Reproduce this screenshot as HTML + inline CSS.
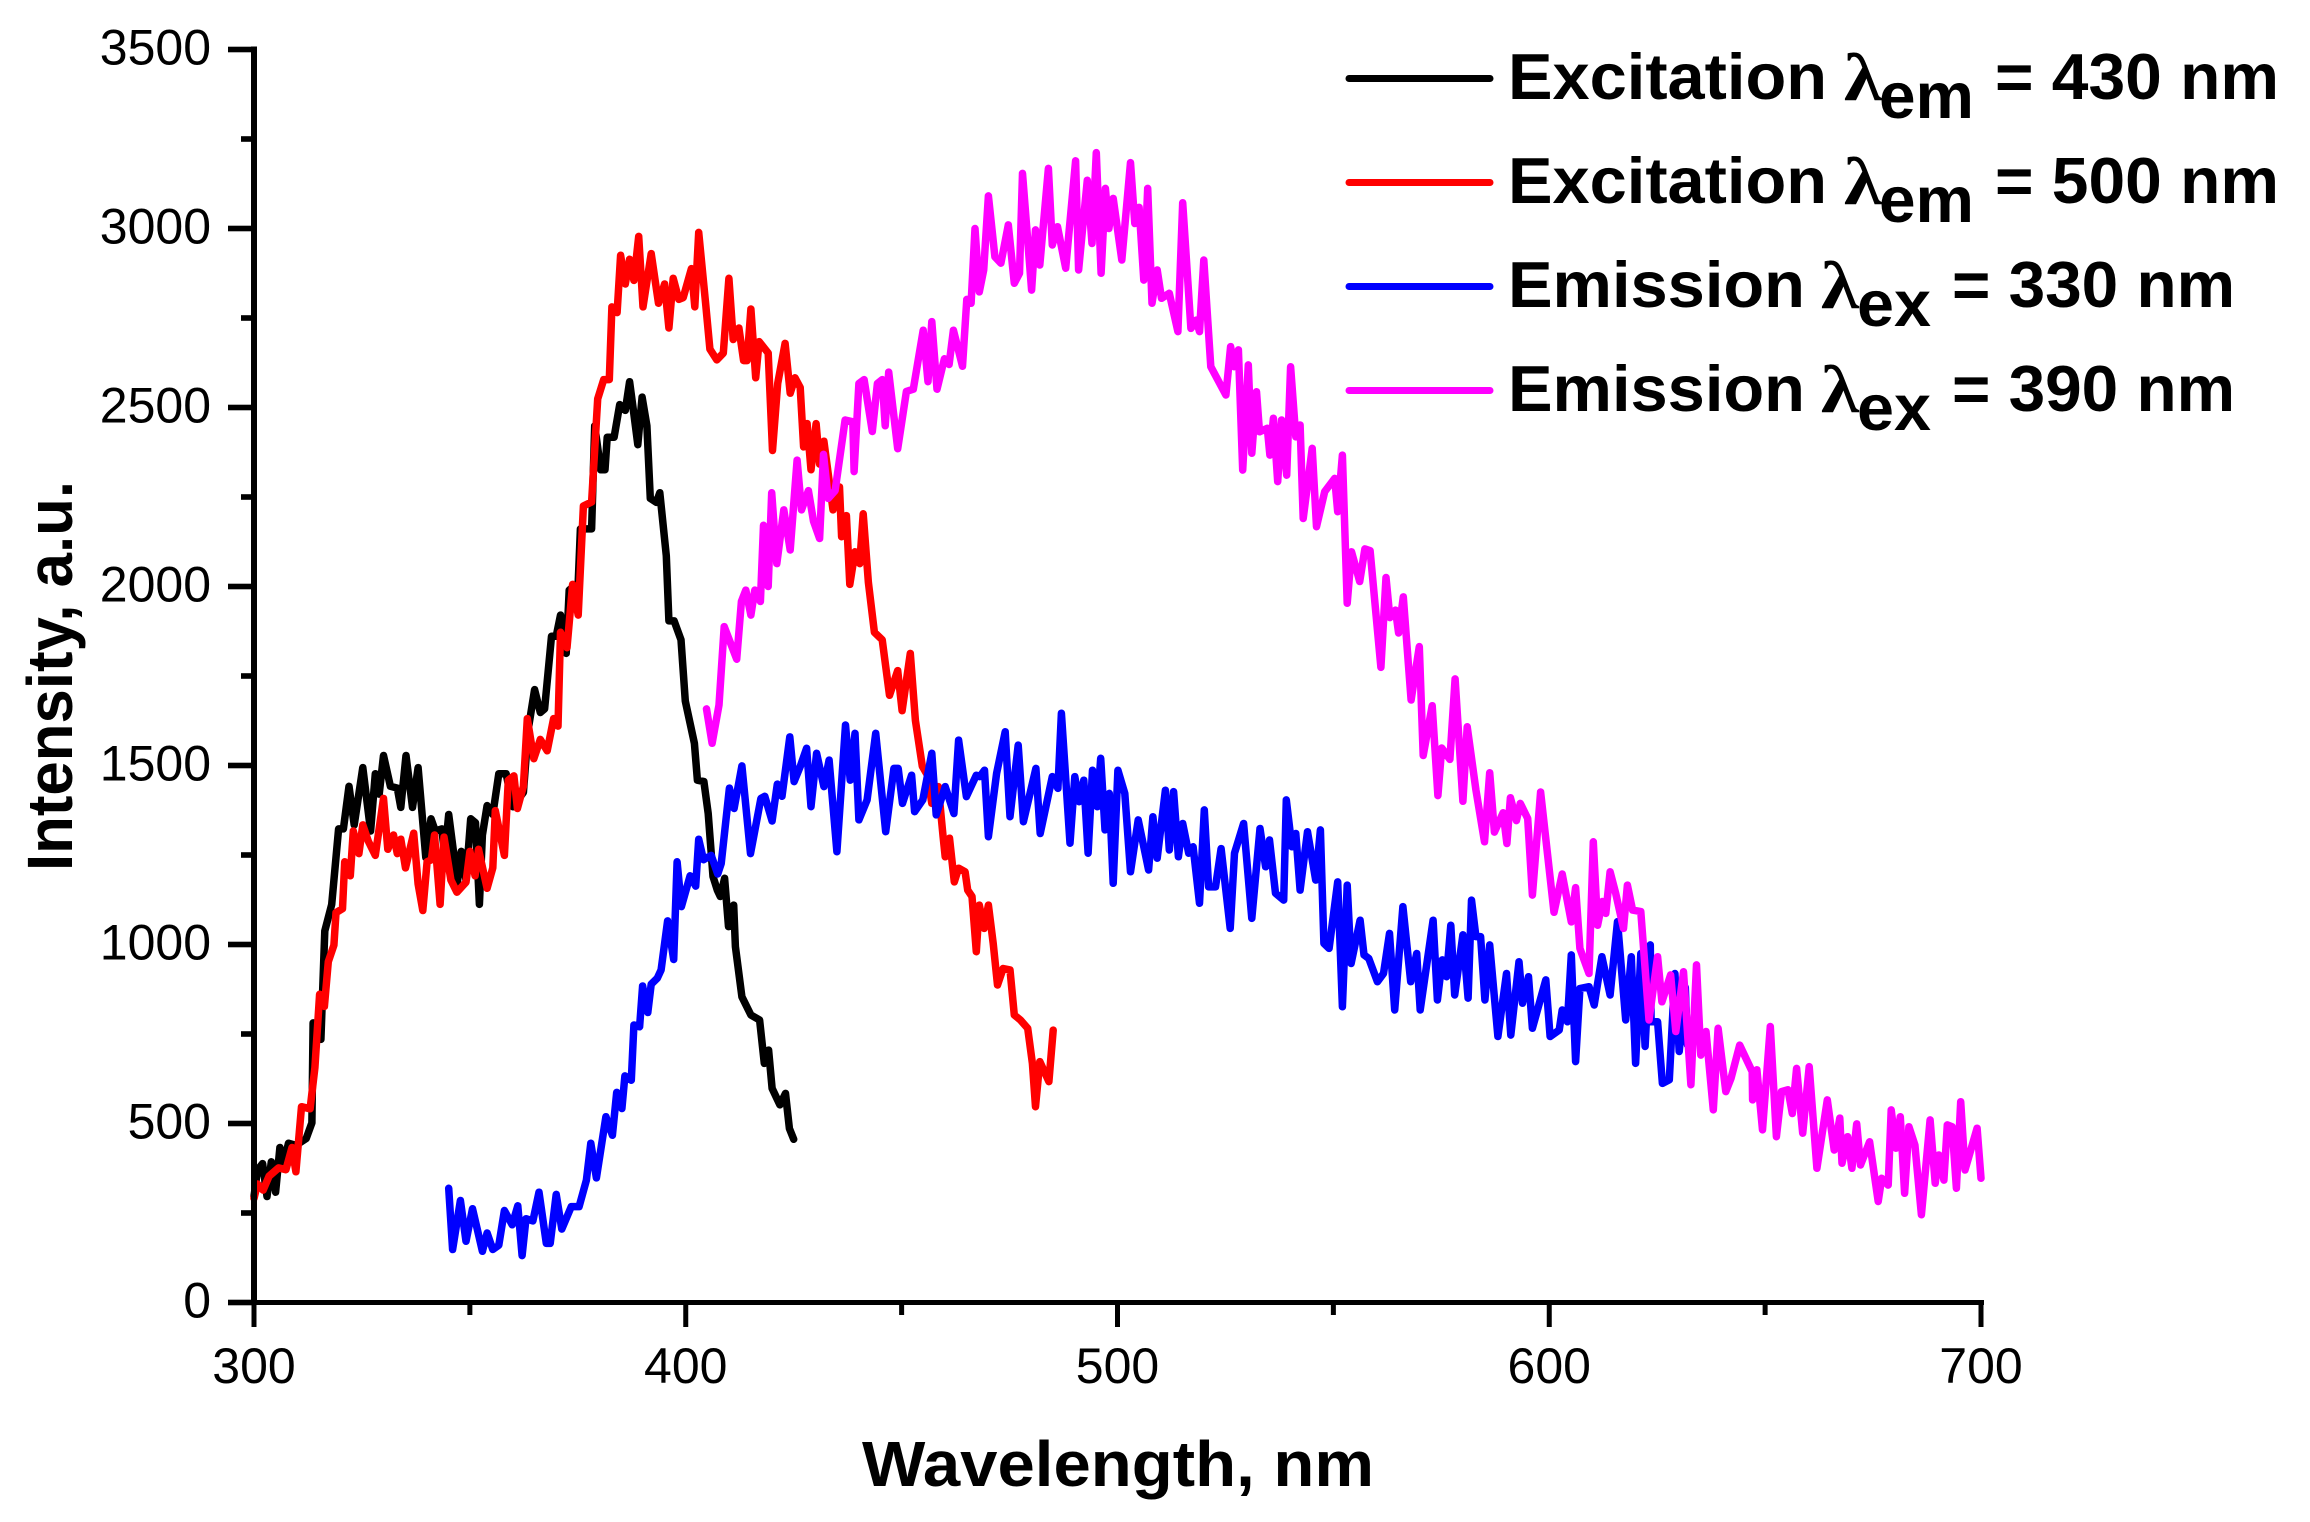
<!DOCTYPE html>
<html lang="en">
<head>
<meta charset="utf-8">
<title>Excitation and emission spectra</title>
<style>
html,body{margin:0;padding:0;background:#fff;}
svg{display:block;}
text{fill:#000;font-family:"Liberation Sans",Arial,sans-serif;}
.tick{font-size:50px;}
.title{font-size:64px;font-weight:700;}
.leg{font-size:65px;font-weight:700;}
.lam{font-size:68px;font-weight:700;font-family:"Liberation Serif",serif;}
</style>
</head>
<body>
<svg id="chart" xmlns="http://www.w3.org/2000/svg" width="2310" height="1522" viewBox="0 0 2310 1522">
  <rect x="0" y="0" width="2310" height="1522" fill="#fff"/>
  <g id="series-layer"></g>
  <g id="axes-layer">
    <rect x="251" y="46.5" width="6" height="1258.5" fill="#000"/>
    <rect x="251" y="1300" width="1733" height="5" fill="#000"/>
  </g>
  <text class="title" x="862" y="1486" textLength="512" lengthAdjust="spacingAndGlyphs">Wavelength, nm</text>
  <text class="title" transform="translate(72,871) rotate(-90)" x="0" y="0" textLength="390" lengthAdjust="spacingAndGlyphs">Intensity, a.u.</text>
  <g>
    <g>
      <line x1="1349" x2="1490" y1="78.5" y2="78.5" stroke="#000" stroke-width="7" stroke-linecap="round"/>
      <text class="leg" x="1508" y="99" textLength="319" lengthAdjust="spacingAndGlyphs">Excitation</text>
      <text class="lam" x="1844" y="100" textLength="38" lengthAdjust="spacingAndGlyphs">λ</text>
      <text class="leg" x="1879" y="118" textLength="95" lengthAdjust="spacingAndGlyphs">em</text>
      <text class="leg" x="1995" y="99" textLength="284" lengthAdjust="spacingAndGlyphs">= 430 nm</text>
    </g>
    <g>
      <line x1="1349" x2="1490" y1="182.5" y2="182.5" stroke="#f00" stroke-width="7" stroke-linecap="round"/>
      <text class="leg" x="1508" y="203" textLength="319" lengthAdjust="spacingAndGlyphs">Excitation</text>
      <text class="lam" x="1844" y="204" textLength="38" lengthAdjust="spacingAndGlyphs">λ</text>
      <text class="leg" x="1879" y="222" textLength="95" lengthAdjust="spacingAndGlyphs">em</text>
      <text class="leg" x="1995" y="203" textLength="284" lengthAdjust="spacingAndGlyphs">= 500 nm</text>
    </g>
    <g>
      <line x1="1349" x2="1490" y1="286.5" y2="286.5" stroke="#00f" stroke-width="7" stroke-linecap="round"/>
      <text class="leg" x="1508" y="307" textLength="297" lengthAdjust="spacingAndGlyphs">Emission</text>
      <text class="lam" x="1821" y="308" textLength="38" lengthAdjust="spacingAndGlyphs">λ</text>
      <text class="leg" x="1857" y="326" textLength="74" lengthAdjust="spacingAndGlyphs">ex</text>
      <text class="leg" x="1952" y="307" textLength="283" lengthAdjust="spacingAndGlyphs">= 330 nm</text>
    </g>
    <g>
      <line x1="1349" x2="1490" y1="390.5" y2="390.5" stroke="#f0f" stroke-width="7" stroke-linecap="round"/>
      <text class="leg" x="1508" y="411" textLength="297" lengthAdjust="spacingAndGlyphs">Emission</text>
      <text class="lam" x="1821" y="412" textLength="38" lengthAdjust="spacingAndGlyphs">λ</text>
      <text class="leg" x="1857" y="430" textLength="74" lengthAdjust="spacingAndGlyphs">ex</text>
      <text class="leg" x="1952" y="411" textLength="283" lengthAdjust="spacingAndGlyphs">= 390 nm</text>
    </g>
  </g>
</svg>
<script>
const xTickValues = [300, 400, 500, 600, 700];
const xMinorTickValues = [350, 450, 550, 650];
const yTickValues = [0, 500, 1000, 1500, 2000, 2500, 3000, 3500];
const yMinorTickValues = [250, 750, 1250, 1750, 2250, 2750, 3250];

const excitation430Wavelengths = [300,300.8,302,303,304,305,306,306.8,308,309.7,312.1,313.4,313.7,315.5,316.4,318,319.6,320.7,322,323.2,325.2,327,328.1,329,330,331.6,333.2,334,335.2,336.7,338,339.8,341,342,343.5,344.2,345.1,347.1,348,349.1,350.2,351.3,352.2,352.9,354,355.3,356.7,358.4,360,362.4,363.5,365,366.3,367.3,368.9,370,371,372.3,373,375.1,375.6,378.2,378.9,380.3,381.3,381.8,383.4,384.7,386,387,388,388.9,389.9,391,391.8,393.2,394,395.5,396.1,397.3,398.9,399.9,402,402.7,404.2,405.2,406.3,407.3,408,409,409.9,411.1,411.5,413,415.1,417.1,418.2,419.2,420,421.8,423.1,424,425];
const excitation430Intensities = [296,370,388,296,393,308,433,388,445,439,458,502,781,735,1038,1112,1323,1323,1442,1334,1494,1317,1477,1420,1528,1442,1437,1383,1528,1383,1494,1243,1351,1317,1323,1249,1363,1174,1260,1180,1351,1340,1112,1306,1388,1363,1477,1477,1385,1425,1600,1712,1648,1658,1861,1861,1920,1813,1990,2011,2161,2161,2449,2326,2326,2417,2417,2508,2492,2572,2481,2396,2529,2449,2246,2235,2262,2086,1904,1904,1851,1680,1562,1459,1455,1366,1190,1152,1134,1185,1050,1110,994,854,803,789,668,705,598,552,584,486,456];

const excitation500Wavelengths = [300,300.8,302.1,303.5,305.7,307.4,308.8,309.7,311,313,314.1,315.2,316.3,317.2,318.5,319,320.5,321,322.3,323,324.3,325.2,326.5,328.1,330,331,332.3,333.2,334,335.1,337,338,339.1,340.1,341.1,341.8,343.1,344,345.6,347,349.1,350,351.2,352,354,355.3,355.9,358,358.9,360.2,361,362.4,363.3,364.8,366.3,367.9,369.4,370.4,371,372.5,373.8,375.1,376.3,378.2,379.6,381,382.3,382.9,384.1,384.9,386,387,388,389.1,390.1,392,393.7,395.1,396.1,397.1,398.4,399.4,401.3,402.1,403,404.6,405.6,407.2,408.7,410,411,412.3,413.4,414.2,415.1,416.2,417,419.1,420.1,421.3,423,424.2,425.3,426.5,427.3,428.1,429,430.2,431,432,434.1,435.6,436.1,437.2,438,439.2,440.3,441.1,442.3,443.7,445.5,447.2,449.1,450.1,452,453.2,454.8,456,457,458.5,459.6,460.1,461.1,462.2,463.2,464.7,465.3,466.3,467.3,468,469.1,470.1,471.2,472.2,473.5,475.1,476.1,477.5,479.2,480.3,481,482,484.1,485.1];
const excitation500Intensities = [291,331,314,353,376,371,433,365,547,541,656,861,827,952,998,1089,1100,1231,1192,1317,1254,1334,1288,1249,1408,1266,1306,1254,1294,1214,1311,1169,1095,1231,1237,1306,1112,1300,1180,1146,1174,1260,1192,1266,1157,1214,1374,1249,1459,1471,1380,1442,1631,1519,1573,1541,1631,1610,1872,1829,2006,1920,2225,2236,2524,2578,2578,2781,2765,2925,2845,2914,2855,2978,2781,2930,2791,2845,2722,2861,2802,2807,2888,2781,2989,2791,2663,2633,2652,2861,2690,2722,2631,2631,2775,2583,2684,2652,2380,2567,2679,2540,2583,2556,2390,2455,2326,2455,2342,2406,2214,2278,2139,2198,2006,2097,2064,2203,2011,1872,1851,1696,1765,1653,1813,1626,1498,1473,1394,1441,1301,1245,1297,1175,1213,1203,1152,1134,980,1110,1045,1110,1003,887,933,929,803,789,766,668,547,673,617,761];

const emission330Wavelengths = [345.1,346,347.8,349.1,350.6,352.9,354,355.3,356.7,358,359.8,361.1,362.1,363,364.6,366,367.7,368.6,370,371.3,373.5,375.3,377,378,379.3,381.5,383,384,385.2,385.9,387.4,388,389.3,390,391.2,392,393.4,394.3,395.8,397.2,398,399,401,402.3,403,404.1,405.9,407.4,408.2,410.1,411.2,413,415,417.4,418.3,420,421.2,422.3,424.1,425.1,426.5,428,429,430.3,432,433.2,435,437,438.1,439.2,440.1,442,444,446.3,448.2,449.2,450.2,452.3,453,454.9,457,458,460.1,462.1,463.2,465,467.3,468.1,469.2,470.1,472,474,475.1,477,478.2,481.1,482.1,484.9,486.2,487,489,490.1,491.1,492.2,493.2,494.2,495.3,496.1,497.1,498.1,499,500.1,501.7,503,504.8,507.2,508.2,509.2,511.1,512,513,514.1,515.1,516.5,517.5,519,520.1,521.1,522.7,524,526.1,527.1,529.2,531.1,533,534.3,535.2,536.6,538.5,539.1,540.4,541.3,542.3,544,545.9,547,547.8,549,551,552.1,553.2,554.1,556.2,557.1,558.2,560.2,561.6,563,564.2,566.1,567.9,569.3,570.1,573.1,574.1,575.2,576.2,577.2,578.1,580,581.2,582,583,584.1,585.1,586.2,588.1,590.1,591.1,593,593.8,595.2,596.1,599.2,600.2,602.3,603,604.2,605.1,606.1,607.1,609.2,610.4,612.2,614.1,615.8,617.7,619,620,621.2,622.2,623.4,623.6,625.1,626.2,627.8,629.1,630.1,631.5,632];
const emission330Intensities = [319,148,285,171,262,143,194,148,160,257,217,270,131,234,228,308,165,165,302,205,268,268,342,445,348,519,467,587,542,633,621,775,770,884,810,889,906,929,1066,958,1231,1106,1192,1163,1294,1237,1249,1197,1226,1437,1380,1499,1254,1408,1414,1345,1448,1414,1580,1455,1497,1548,1385,1534,1441,1515,1259,1613,1459,1590,1348,1404,1590,1315,1492,1492,1394,1473,1371,1404,1534,1362,1441,1366,1571,1413,1473,1469,1487,1301,1478,1594,1357,1557,1343,1492,1310,1469,1436,1646,1283,1469,1399,1459,1255,1487,1385,1520,1320,1422,1171,1487,1422,1203,1348,1208,1357,1241,1431,1264,1427,1245,1338,1255,1273,1115,1376,1161,1161,1268,1045,1255,1338,1073,1324,1217,1292,1143,1124,1404,1273,1310,1152,1315,1180,1320,1003,989,1175,826,1166,947,1068,971,961,896,919,1031,817,1106,896,975,817,1068,845,957,910,1054,859,1027,850,1124,1022,1022,845,999,743,919,747,952,836,910,766,901,743,761,817,784,971,673,877,882,831,966,859,1064,789,966,668,975,715,999,784,784,612,622,919,701,880,720];

const emission390Wavelengths = [404.8,406.1,407.7,408.9,411.8,412.9,413.9,415.1,416,417.3,418,419.1,419.9,421.1,422.7,424.2,425.8,426.8,428.4,429.6,431,431.9,433,434.6,436.9,438.7,439,440.1,441.3,443.2,444.4,445.5,446.2,447,449.1,451.1,452.7,455,456.1,457,458.2,459.9,461,462,464.1,465.1,466.1,467,468,469,470.1,471.6,473,474.7,476.1,477.3,478,480.1,481,482,484,484.9,486.1,488,490.3,491,493,494.1,495.1,496.2,497.2,498,499,501,503,504,505,506.1,507,508,509.2,510.2,512,514,515.1,517,518.2,519,520,521.6,525.1,526.2,527,528,529,530.3,531.1,532.2,532.9,534.7,535.3,536.1,537.1,538,539.2,540.1,541.3,542.3,543,545.1,546.1,548,550.3,551,552.1,553.2,554.2,556.1,557.3,558.5,561,562.2,563.1,564.4,565.1,566.2,568,569.9,570.8,572.9,574.2,575.1,577,578.2,580,581,583,585,586.2,587.3,589.3,590.2,591,592.4,593.3,595,596.1,598,601.1,603,605.1,606.1,607.1,609.2,610.2,611.2,612.3,613.1,614.1,615.4,617.2,618.1,619.3,621.2,623.1,625.1,626.1,628.1,629.3,631.1,632.8,634.1,635.1,636.3,638,639.1,640.9,642.1,644.1,647,647.1,648.1,649.4,651.2,652.6,653.8,655.3,656.3,657.3,658.7,660.2,662,664.4,666,667.3,667.8,669.1,670.1,671.2,672.1,674.2,676.2,677,678.5,679.2,680.3,681.3,682.3,683.3,684.7,686.2,688.2,689.4,690.2,691.4,692.2,693.3,694.3,695.3,696.3,699.1,700];
const emission390Intensities = [1658,1562,1669,1888,1797,1958,1990,1920,1990,1958,2171,2000,2262,2064,2214,2102,2353,2214,2268,2182,2134,2369,2246,2268,2465,2460,2321,2567,2578,2433,2567,2578,2449,2599,2385,2545,2551,2716,2572,2740,2551,2636,2620,2716,2615,2802,2791,3000,2823,2884,3091,2921,2903,3010,2847,2875,3154,2828,2996,2898,3168,2954,3005,2889,3189,2884,3135,2958,3212,2875,3112,3000,3084,2912,3184,3014,3059,2856,3112,2791,2884,2805,2819,2712,3072,2721,2744,2712,2912,2614,2535,2670,2614,2661,2325,2619,2372,2544,2432,2442,2367,2470,2293,2465,2311,2614,2418,2451,2190,2386,2167,2265,2302,2209,2367,1953,2097,2014,2105,2100,1774,2025,1913,1934,1870,1971,1683,1832,1528,1667,1416,1549,1517,1742,1400,1608,1432,1287,1480,1314,1368,1282,1410,1346,1394,1352,1138,1426,1090,1197,1063,1159,989,919,1287,1054,1120,1087,1203,1143,1045,1166,1096,1092,789,966,840,915,757,924,608,943,691,757,538,766,589,626,719,645,566,650,482,771,463,589,594,528,654,473,659,375,566,426,515,389,463,375,499,384,449,282,347,328,538,431,519,305,491,440,245,510,333,412,342,496,491,319,561,370,487,347];

const seriesColors = ['#000', '#f00', '#00f', '#f0f'];
const seriesNames = ['excitation-430-line', 'excitation-500-line', 'emission-330-line', 'emission-390-line'];

const SVG_NS = 'http://www.w3.org/2000/svg';
function xScale(nm) { return 254 + (nm - 300) * (1981 - 254) / 400; }
function yScale(v) { return 1302.5 - v * (1302.5 - 49.5) / 3500; }

const seriesLayer = document.getElementById('series-layer');
const axesLayer = document.getElementById('axes-layer');
const chartRoot = document.getElementById('chart');

function drawSeries(index, wavelengths, intensities) {
  let d = '';
  for (let i = 0; i < wavelengths.length; i++) {
    d += (i === 0 ? 'M' : 'L') + xScale(wavelengths[i]).toFixed(1) + ' ' + yScale(intensities[i]).toFixed(1);
  }
  const path = document.createElementNS(SVG_NS, 'path');
  
  
  path.setAttribute('d', d);
  path.setAttribute('fill', 'none');
  path.setAttribute('stroke', seriesColors[index]);
  path.setAttribute('stroke-width', '7.5');
  path.setAttribute('stroke-linejoin', 'round');
  path.setAttribute('stroke-linecap', 'round');
  seriesLayer.appendChild(path);
}
drawSeries(0, excitation430Wavelengths, excitation430Intensities);
drawSeries(1, excitation500Wavelengths, excitation500Intensities);
drawSeries(2, emission330Wavelengths, emission330Intensities);
drawSeries(3, emission390Wavelengths, emission390Intensities);

function addRect(name, x, y, w, h) {
  const r = document.createElementNS(SVG_NS, 'rect');
  
  
  r.setAttribute('x', x);
  r.setAttribute('y', y);
  r.setAttribute('width', w);
  r.setAttribute('height', h);
  r.setAttribute('fill', '#000');
  axesLayer.appendChild(r);
}
function addLabel(name, content, x, y, anchor) {
  const t = document.createElementNS(SVG_NS, 'text');
  
  
  t.setAttribute('class', 'tick');
  t.setAttribute('x', x);
  t.setAttribute('y', y);
  t.setAttribute('text-anchor', anchor);
  t.textContent = content;
  chartRoot.appendChild(t);
}

xTickValues.forEach(function (v) {
  addRect('x-tick-' + v, xScale(v) - 2.5, 1302, 5, 25);
  addLabel('x-tick-label-' + v, String(v), xScale(v), 1383, 'middle');
});
xMinorTickValues.forEach(function (v) {
  addRect('x-minor-tick-' + v, xScale(v) - 2.5, 1302, 5, 13);
});
yTickValues.forEach(function (v) {
  addRect('y-tick-' + v, 228, yScale(v) - 2.8, 24, 5.6);
  addLabel('y-tick-label-' + v, String(v), 211, yScale(v) + 15, 'end');
});
yMinorTickValues.forEach(function (v) {
  addRect('y-minor-tick-' + v, 241, yScale(v) - 2.8, 11, 5.6);
});
</script>
</body>
</html>
